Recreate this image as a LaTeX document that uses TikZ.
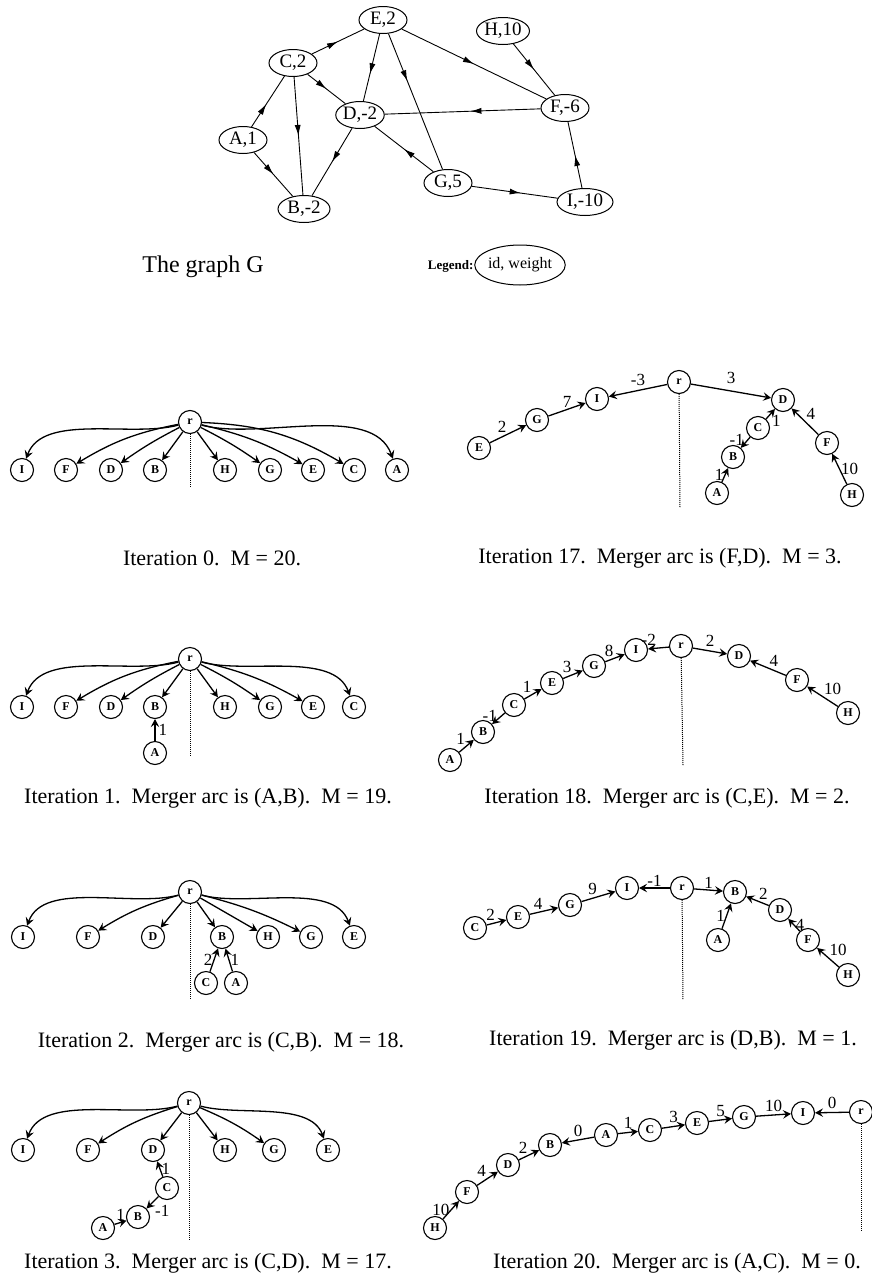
\documentclass[tikz,border=0pt]{standalone}
\usepackage{fontspec}
\setmainfont{Liberation Serif}
\usetikzlibrary{
  shapes,
  arrows.meta,
  decorations.markings, % Arrow tips in the middle of an edge
}
\newcommand{\fs}[1]{\fontsize{#1}{#1}\selectfont}
\tikzset{
  x=1pt, y=1pt,
  >={Stealth[length=8pt,width=8.5pt,inset=3pt]},
  gnode/.style={
    draw, ellipse,
    line width=1pt,
    minimum width=48pt,
    minimum height=27pt,
    inner sep=0pt,
    font=\fs{19}
  },
  tnode/.style={
    draw, circle,
    line width=1.1pt,
    minimum size=23pt,
    inner sep=0pt,
    font=\fs{12}\bfseries
  },
  garc/.style={
    line width=0.9pt,
    postaction={decorate},
    decoration={markings,
      mark=at position #1 with {\arrow{Latex[length=11pt,width=6pt]}}}
  },
  garc/.default=0.5,
  tarc/.style={->, line width=1.3pt},
  wt/.style={font=\fs{17}, inner sep=1pt},
  split/.style={densely dotted, line width=1pt},
  caption/.style={font=\fs{22}},
}

\begin{document}
\begin{tikzpicture}
\useasboundingbox (0,0) rectangle (871,-1285);

% ---------------- the graph G ----------------
\node[gnode] (E) at (383,-20)  {E,2};
\node[gnode] (H) at (503,-31)  {H,10};
\node[gnode] (C) at (293,-63)  {C,2};
\node[gnode] (D) at (360,-115) {D,-2};
\node[gnode] (F) at (565,-108) {F,-6};
\node[gnode] (A) at (243,-140) {A,1};
\node[gnode] (G) at (448,-183) {G,5};
\node[gnode,minimum width=56pt] (I) at (585,-202) {I,-10};
\node[gnode,minimum width=52pt] (B) at (304,-209) {B,-2};

\draw[garc] (C) -- (E);
\draw[garc=.6] (E) -- (D);
\draw[garc=.35] (E) -- (G);
\draw[garc] (E) -- (F);
\draw[garc] (H) -- (F);
\draw[garc] (C) -- (D);
\draw[garc] (C) -- (B);
\draw[garc=.45] (A) -- (C);
\draw[garc] (A) -- (B);
\draw[garc] (D) -- (B);
\draw[garc=.45] (F) -- (D);
\draw[garc] (G) -- (D);
\draw[garc=.57] (G) -- (I);
\draw[garc] (I) -- (F);

\node[font=\fs{24}] (title) at (203,-267) {The graph G};
\node[draw,ellipse,line width=1pt,minimum width=75pt,minimum height=40pt,
      inner sep=0pt,font=\fs{16}] (key) at (520,-265) {id, weight};
\node[font=\fs{13}\bfseries,anchor=east] (legend) at (477,-266) {Legend:};

% ---------------- iteration 0 ----------------
\node[tnode] (r0) at (190,-422) {r};
\foreach \n/\x in {I/22,F/66,D/111,B/155,H/225,G/270,E/313,C/354,A/397}
  \node[tnode] (\n0) at (\x,-470) {\n};
\draw[tarc] (r0) to[out=195,in=70,looseness=0.8] (I0);
\draw[tarc] (r0) to[bend right=10] (F0);
\draw[tarc] (r0) to[bend right=4] (D0);
\draw[tarc] (r0) -- (B0);
\draw[tarc] (r0) -- (H0);
\draw[tarc] (r0) to[bend left=4] (G0);
\draw[tarc] (r0) to[bend left=8] (E0);
\draw[tarc] (r0) to[bend left=14] (C0);
\draw[tarc] (r0) to[out=-15,in=110,looseness=0.8] (A0);
\coordinate (s0) at (190,-487);
\draw[split] (r0) -- (s0);
\node[caption] (cap0) at (212,-558) {Iteration 0.\enspace M = 20.};

% ---------------- iteration 17 ----------------
\node[tnode] (r17) at (679,-382) {r};
\node[tnode] (I17) at (597,-399) {I};
\node[tnode] (G17) at (537,-420) {G};
\node[tnode] (E17) at (479,-448) {E};
\node[tnode] (D17) at (783,-400) {D};
\node[tnode] (C17) at (758,-428) {C};
\node[tnode] (B17) at (733,-457) {B};
\node[tnode] (A17) at (717,-493) {A};
\node[tnode] (F17) at (827,-443) {F};
\node[tnode] (H17) at (852,-495) {H};
\draw[tarc] (r17) -- node[wt,above=3pt] {-3} (I17);
\draw[tarc] (r17) -- node[wt,above=6pt] {3} (D17);
\draw[tarc] (G17) -- node[wt,above] {7} (I17);
\draw[tarc] (E17) -- node[wt,above left] {2} (G17);
\draw[tarc] (C17) -- node[wt,below right] {1} (D17);
\draw[tarc] (C17) -- node[wt,left,yshift=3pt] {-1} (B17);
\draw[tarc] (A17) -- node[wt,left] {1} (B17);
\draw[tarc] (F17) -- node[wt,above right] {4} (D17);
\draw[tarc] (H17) -- node[wt,right] {10} (F17);
\coordinate (s17) at (680,-508);
\draw[split] (r17) -- (s17);
\node[caption] (cap17) at (660,-558) {Iteration 17.\enspace Merger arc is (F,D).\enspace M = 3.};

% ---------------- iteration 1 ----------------
\node[tnode] (r1) at (190,-659) {r};
\foreach \n/\x in {I/22,F/66,D/111,B/155,H/225,G/270,E/313,C/354}
  \node[tnode] (\n1) at (\x,-707) {\n};
\node[tnode] (A1) at (155,-753) {A};
\draw[tarc] (r1) to[out=195,in=70,looseness=0.8] (I1);
\draw[tarc] (r1) to[bend right=10] (F1);
\draw[tarc] (r1) to[bend right=4] (D1);
\draw[tarc] (r1) -- (B1);
\draw[tarc] (r1) -- (H1);
\draw[tarc] (r1) to[bend left=4] (G1);
\draw[tarc] (r1) to[bend left=8] (E1);
\draw[tarc] (r1) to[out=-15,in=110,looseness=0.8] (C1);
\draw[tarc] (A1) -- node[wt,right=2pt] {1} (B1);
\coordinate (s1) at (190,-757);
\draw[split] (r1) -- (s1);
\node[caption] (cap1) at (208,-798) {Iteration 1.\enspace Merger arc is (A,B).\enspace M = 19.};

% ---------------- iteration 18 ----------------
\node[tnode] (r18) at (681,-646) {r};
\node[tnode] (I18) at (636,-650) {I};
\node[tnode] (G18) at (594,-666) {G};
\node[tnode] (E18) at (552,-683) {E};
\node[tnode] (C18) at (514,-705) {C};
\node[tnode] (B18) at (483,-732) {B};
\node[tnode] (A18) at (450,-760) {A};
\node[tnode] (D18) at (739,-656) {D};
\node[tnode] (F18) at (797,-680) {F};
\node[tnode] (H18) at (848,-713) {H};
\draw[tarc] (r18) -- node[wt,above left=1pt] {-2} (I18);
\draw[tarc] (r18) -- node[wt,above=3pt] {2} (D18);
\draw[tarc] (G18) -- node[wt,above left] {8} (I18);
\draw[tarc] (E18) -- node[wt,above left] {3} (G18);
\draw[tarc] (C18) -- node[wt,above left] {1} (E18);
\draw[tarc] (C18) -- node[wt,left,yshift=3pt] {-1} (B18);
\draw[tarc] (A18) -- node[wt,above left] {1} (B18);
\draw[tarc] (F18) -- node[wt,above right] {4} (D18);
\draw[tarc] (H18) -- node[wt,above right] {10} (F18);
\coordinate (s18) at (683,-765);
\draw[split] (r18) -- (s18);
\node[caption] (cap18) at (667,-798) {Iteration 18.\enspace Merger arc is (C,E).\enspace M = 2.};

% ---------------- iteration 2 ----------------
\node[tnode] (r2) at (190,-892) {r};
\foreach \n/\x in {I/23,F/88,D/153,B/222,H/268,G/311,E/354}
  \node[tnode] (\n2) at (\x,-937) {\n};
\node[tnode] (C2) at (206,-983) {C};
\node[tnode] (A2) at (236,-983) {A};
\draw[tarc] (r2) to[out=195,in=70,looseness=0.8] (I2);
\draw[tarc] (r2) to[bend right=8] (F2);
\draw[tarc] (r2) -- (D2);
\draw[tarc] (r2) -- (B2);
\draw[tarc] (r2) -- (H2);
\draw[tarc] (r2) to[bend left=6] (G2);
\draw[tarc] (r2) to[out=-15,in=110,looseness=0.8] (E2);
\draw[tarc] (C2) -- node[wt,left] {2} (B2);
\draw[tarc] (A2) -- node[wt,right] {1} (B2);
\coordinate (s2) at (190,-1000);
\draw[split] (r2) -- (s2);
\node[caption] (cap2) at (221,-1042) {Iteration 2.\enspace Merger arc is (C,B).\enspace M = 18.};

% ---------------- iteration 19 ----------------
\node[tnode] (r19) at (682,-888) {r};
\node[tnode] (I19) at (627,-888) {I};
\node[tnode] (G19) at (570,-905) {G};
\node[tnode] (E19) at (518,-917) {E};
\node[tnode] (C19) at (475,-928) {C};
\node[tnode] (B19) at (735,-892) {B};
\node[tnode] (D19) at (780,-910) {D};
\node[tnode] (F19) at (808,-940) {F};
\node[tnode] (H19) at (848,-975) {H};
\node[tnode] (A19) at (718,-940) {A};
\draw[tarc] (r19) -- node[wt,above] {-1} (I19);
\draw[tarc] (r19) -- node[wt,above] {1} (B19);
\draw[tarc] (G19) -- node[wt,above left] {9} (I19);
\draw[tarc] (E19) -- node[wt,above left] {4} (G19);
\draw[tarc] (C19) -- node[wt,above left] {2} (E19);
\draw[tarc] (A19) -- node[wt,left] {1} (B19);
\draw[tarc] (D19) -- node[wt,above right] {2} (B19);
\draw[tarc] (F19) -- node[wt,right] {4} (D19);
\draw[tarc] (H19) -- node[wt,above right] {10} (F19);
\coordinate (s19) at (683,-1000);
\draw[split] (r19) -- (s19);
\node[caption] (cap19) at (673,-1040) {Iteration 19.\enspace Merger arc is (D,B).\enspace M = 1.};

% ---------------- iteration 3 ----------------
\node[tnode] (r3) at (189,-1103) {r};
\foreach \n/\x in {I/23,F/88,D/153,H/225,G/274,E/328}
  \node[tnode] (\n3) at (\x,-1150) {\n};
\node[tnode] (C3) at (167,-1188) {C};
\node[tnode] (B3) at (138,-1217) {B};
\node[tnode] (A3) at (103,-1228) {A};
\draw[tarc] (r3) to[out=195,in=70,looseness=0.8] (I3);
\draw[tarc] (r3) to[bend right=8] (F3);
\draw[tarc] (r3) -- (D3);
\draw[tarc] (r3) -- (H3);
\draw[tarc] (r3) to[bend left=6] (G3);
\draw[tarc] (r3) to[out=-15,in=110,looseness=0.8] (E3);
\draw[tarc] (C3) -- node[wt,right] {1} (D3);
\draw[tarc] (C3) -- node[wt,below right=1pt] {-1} (B3);
\draw[tarc] (A3) -- node[wt,above] {1} (B3);
\coordinate (s3) at (189,-1240);
\draw[split] (r3) -- (s3);
\node[caption] (cap3) at (208,-1263) {Iteration 3.\enspace Merger arc is (C,D).\enspace M = 17.};

% ---------------- iteration 20 ----------------
\node[tnode] (r20) at (861,-1112) {r};
\node[tnode] (I20) at (803,-1113) {I};
\node[tnode] (G20) at (744,-1117) {G};
\node[tnode] (E20) at (697,-1123) {E};
\node[tnode] (C20) at (650,-1130) {C};
\node[tnode] (A20) at (606,-1135) {A};
\node[tnode] (B20) at (550,-1145) {B};
\node[tnode] (D20) at (508,-1165) {D};
\node[tnode] (F20) at (467,-1192) {F};
\node[tnode] (H20) at (435,-1228) {H};
\draw[tarc] (r20) -- node[wt,above=2pt] {0} (I20);
\draw[tarc] (G20) -- node[wt,above=2pt] {10} (I20);
\draw[tarc] (E20) -- node[wt,above=2pt] {5} (G20);
\draw[tarc] (C20) -- node[wt,above=2pt] {3} (E20);
\draw[tarc] (A20) -- node[wt,above=2pt] {1} (C20);
\draw[tarc] (A20) -- node[wt,above=2pt] {0} (B20);
\draw[tarc] (D20) -- node[wt,above left] {2} (B20);
\draw[tarc] (F20) -- node[wt,above left] {4} (D20);
\draw[tarc] (H20) -- node[wt,left] {10} (F20);
\coordinate (s20) at (861,-1232);
\draw[split] (r20) -- (s20);
\node[caption] (cap20) at (677,-1263) {Iteration 20.\enspace Merger arc is (A,C).\enspace M = 0.};
\end{tikzpicture}
\end{document}
